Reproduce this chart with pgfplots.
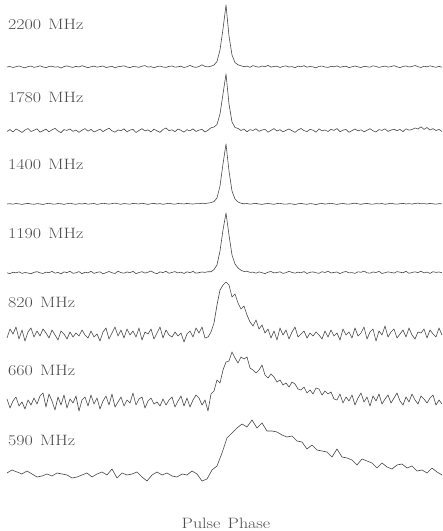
\documentclass[border=0pt]{standalone}
\usepackage{pgfplots}
\usepackage{pgfplotstable}
\usepackage{graphicx}
\pgfplotsset{compat=1.18}

% Profile intensities (arbitrary units), one value per phase bin.
\pgfplotstableread[row sep=\\]{h\\
0\\0.5\\-0.5\\0.3\\1.0\\0\\-0.8\\0.4\\0.9\\-0.3\\
0.2\\1.2\\0.1\\-0.6\\0.5\\0.8\\-0.2\\0.3\\-1.0\\0.4\\
1.1\\0.2\\-0.4\\0.6\\0\\1.3\\0.3\\-0.7\\0.2\\0.9\\
-0.2\\0.4\\1.0\\-0.5\\0.1\\0.7\\-0.9\\0.3\\0.6\\1.2\\
0\\-0.6\\0.5\\0.2\\-0.3\\0.8\\1.4\\-0.1\\0.3\\-0.8\\
0.4\\0.9\\0\\-0.4\\0.6\\1.0\\-0.2\\0.2\\0.8\\-0.5\\
0.3\\1.6\\0.2\\-0.4\\0.5\\2.2\\0.6\\0.1\\0.8\\2.0\\
5.5\\17\\38\\62\\31\\12\\4.5\\2.2\\1.2\\0.3\\
0.9\\-0.3\\1.4\\0.4\\-0.2\\1.0\\0.3\\1.6\\-0.1\\0.5\\
0.8\\-0.5\\0.6\\1.1\\0\\0.4\\-0.7\\0.9\\0.2\\1.3\\
-0.2\\0.5\\0.1\\-0.9\\0.6\\0.9\\0\\-0.4\\0.7\\0.2\\
1.1\\-0.3\\0.4\\0.8\\-0.6\\0.2\\1.0\\0.1\\-0.5\\0.6\\
0.3\\-0.2\\1.2\\0.5\\-0.4\\0.3\\0.9\\-0.1\\0.4\\1.3\\
0.2\\-0.7\\0.6\\1.0\\0\\0.5\\1.5\\0.3\\-0.5\\0.8\\
0.1\\1.2\\0.4\\-0.3\\0.6\\-0.2\\
}\profA

\pgfplotstableread[row sep=\\]{h\\
-0.5\\1.5\\-1.0\\2.0\\0.5\\-1.5\\1.0\\2.5\\-0.5\\0.8\\
2.2\\-1.2\\0.3\\1.8\\-0.8\\1.2\\2.6\\0\\-1.6\\1.4\\
0.6\\2.0\\-0.4\\1.0\\-1.4\\0.8\\2.4\\-0.2\\1.6\\-1.0\\
0.4\\1.9\\-0.6\\1.2\\2.8\\0.2\\-1.2\\1.0\\0.3\\2.1\\
-0.8\\0.9\\1.6\\-1.5\\0.5\\2.3\\0.1\\1.1\\-0.9\\1.8\\
0.2\\-1.3\\1.5\\3.0\\0.4\\1.2\\-0.7\\2.0\\0.6\\-1.1\\
1.3\\0.1\\2.2\\-0.5\\0.9\\1.7\\-1.0\\0.7\\3.2\\4.0\\
6.5\\17\\37\\57\\27\\9\\3.5\\2.6\\0.5\\2.0\\
-0.8\\1.4\\0.5\\2.2\\-0.3\\0.9\\1.8\\-1.2\\0.6\\2.4\\
0\\1.3\\-0.9\\0.7\\2.0\\0.3\\-1.4\\1.1\\2.5\\0.4\\
-0.6\\1.6\\0.8\\-1.1\\2.1\\0.2\\1.0\\-0.5\\1.7\\0.6\\
2.4\\-0.7\\0.9\\1.5\\-1.3\\0.4\\2.0\\0.1\\1.2\\-0.8\\
0.7\\2.3\\0.2\\-1.0\\1.4\\0.6\\2.1\\-0.4\\0.9\\1.8\\
0.3\\1.6\\-0.6\\2.2\\0.8\\1.5\\3.0\\2.0\\4.2\\1.6\\
3.5\\1.0\\2.4\\0.5\\1.6\\-0.5\\
}\profB

\pgfplotstableread[row sep=\\]{h\\
0\\0.3\\-0.2\\0.5\\0.1\\-0.4\\0.2\\0.6\\0\\-0.3\\
0.4\\0.1\\-0.5\\0.3\\0.7\\0\\-0.2\\0.5\\0.2\\-0.4\\
0.3\\0.8\\0.1\\-0.3\\0.4\\0\\0.6\\-0.2\\0.2\\0.5\\
-0.4\\0.1\\0.7\\0.3\\-0.1\\0.4\\0.9\\0.2\\-0.3\\0.5\\
0.1\\-0.2\\0.6\\0.3\\0\\0.8\\0.2\\-0.4\\0.3\\0.6\\
0\\0.4\\-0.3\\0.2\\0.7\\0.1\\-0.2\\0.5\\0.3\\0\\
0.6\\0.2\\-0.1\\0.4\\0.3\\0.8\\0.5\\0.9\\1.4\\2.5\\
6\\18\\40\\60\\33\\13\\5\\2\\0.8\\0.2\\
0.5\\-0.2\\0.3\\0.6\\0\\-0.4\\0.2\\0.5\\0.1\\-0.3\\
0.4\\0.7\\0\\-0.2\\0.3\\0.1\\-0.5\\0.2\\0.6\\0\\
-0.3\\0.4\\0.1\\-0.6\\0.2\\0.5\\-0.1\\0.3\\0.7\\0.1\\
-0.4\\0.2\\0.5\\0\\-0.2\\0.4\\0.8\\0.2\\-0.3\\0.3\\
0.6\\0\\-0.2\\0.4\\0.1\\0.5\\-0.3\\0.2\\0.7\\0.1\\
-0.2\\0.3\\0.6\\0\\0.4\\-0.1\\0.5\\0.9\\0.2\\0.4\\
0\\0.6\\0.2\\-0.2\\0.4\\0.1\\
}\profC

\pgfplotstableread[row sep=\\]{h\\
0.2\\-0.6\\0.8\\0.1\\1.2\\-0.4\\0.5\\0\\-0.8\\0.7\\
1.3\\0.2\\-0.5\\0.9\\0.3\\1.6\\-0.2\\0.6\\-0.9\\1.1\\
0.4\\1.8\\-0.3\\0.2\\1.4\\-0.7\\0.8\\0.1\\1.7\\-0.4\\
0.6\\1.2\\-0.8\\0.3\\1.5\\0.2\\-0.5\\1.9\\0.4\\-0.2\\
1.0\\0.3\\1.7\\-0.6\\0.5\\1.3\\-0.1\\0.8\\2.0\\0.2\\
-0.7\\1.1\\0.4\\1.8\\-0.3\\0.6\\1.4\\0\\0.9\\-0.5\\
1.2\\0.3\\1.6\\-0.2\\0.4\\1.0\\0.6\\1.3\\1.2\\3.5\\
8\\22\\43\\60\\38\\18\\9\\5\\2.8\\1.5\\
1.8\\0.6\\0.9\\-0.2\\1.1\\0.3\\-0.6\\0.8\\1.5\\0.1\\
0.5\\1.2\\-0.4\\0.3\\1.7\\0.6\\-0.2\\0.9\\0.2\\1.4\\
-0.5\\0.7\\1.1\\0.2\\-0.3\\1.3\\0.5\\1.8\\0\\0.6\\
1.0\\-0.6\\0.8\\1.5\\0.1\\0.4\\-0.4\\1.2\\0.7\\1.9\\
0.2\\-0.2\\1.0\\0.5\\1.6\\-0.5\\0.3\\1.1\\0.6\\-0.1\\
1.4\\0.8\\0.2\\1.7\\-0.3\\0.5\\1.2\\0.4\\1.8\\0.1\\
0.9\\-0.4\\1.3\\0.6\\1.0\\0.3\\
}\profD

\pgfplotstableread[row sep=\\]{h\\
-3\\6\\1\\8\\-4\\5\\-6\\3\\7\\-2\\
4\\-1\\6\\2\\-3\\5\\0\\-5\\4\\1\\
-4\\3\\-2\\2\\-1\\5\\0\\-3\\4\\-2\\
1\\-6\\3\\7\\-4\\2\\8\\-1\\5\\-3\\
6\\0\\4\\-2\\7\\-5\\3\\1\\6\\-4\\
2\\8\\-3\\5\\0\\-2\\3\\-1\\2\\-7\\
1\\4\\-2\\7\\2\\8\\-3\\-2\\3\\12\\
30\\45\\50\\53\\50\\38\\41\\32\\26\\29\\
20\\13\\9\\15\\6\\10\\2\\6\\-3\\4\\
-5\\7\\0\\5\\-4\\3\\8\\-2\\1\\4\\
-3\\2\\-1\\3\\0\\-4\\4\\-2\\5\\-1\\
2\\-5\\6\\0\\3\\-3\\7\\-1\\2\\8\\
-4\\3\\6\\-6\\4\\0\\9\\-2\\3\\6\\
-3\\1\\5\\-2\\7\\0\\-4\\3\\2\\6\\
-3\\5\\1\\-2\\7\\0\\
}\profE

\pgfplotstableread[row sep=\\]{h\\
4\\-5\\2\\6\\-3\\1\\-6\\3\\-2\\5\\
-1\\7\\10\\-4\\9\\2\\-7\\6\\-2\\8\\
-5\\4\\0\\7\\-8\\3\\6\\-3\\8\\-1\\
5\\-6\\2\\7\\-2\\9\\-4\\1\\6\\-3\\
3\\0\\10\\-2\\4\\6\\-5\\2\\5\\-1\\
1\\-3\\4\\-2\\3\\6\\-4\\2\\7\\-3\\
5\\-4\\3\\8\\5\\-2\\3\\-8\\9\\12\\
23\\20\\33\\41\\42\\51\\45\\40\\46\\44\\
46\\35\\33\\30\\33\\38\\28\\25\\29\\26\\
21\\23\\18\\20\\16\\21\\19\\14\\13\\16\\
10\\13\\9\\15\\14\\8\\12\\9\\11\\4\\
3\\9\\0\\6\\2\\8\\-2\\5\\10\\1\\
6\\-3\\7\\2\\9\\-1\\4\\8\\0\\5\\
10\\2\\-2\\6\\1\\9\\3\\-1\\7\\4\\
0\\5\\8\\-2\\3\\-1\\
}\profF

\pgfplotstableread[row sep=\\]{h\\
2\\5\\3\\1\\4\\1\\-2\\-1\\1\\-1\\
2\\1\\0\\-3\\-2\\0\\2\\-2\\1\\3\\
0\\6\\-3\\2\\0\\1\\3\\-2\\-6\\0\\
3\\0\\2\\-1\\-2\\1\\0\\4\\1\\-6\\
-4\\5\\9\\22\\37\\42\\47\\51\\48\\55\\
47\\52\\44\\44\\43\\40\\38\\39\\34\\33\\
26\\30\\25\\24\\23\\18\\26\\18\\17\\15\\
10\\16\\14\\12\\7\\12\\8\\6\\10\\11\\
7\\9\\4\\5\\2\\7\\3\\0\\
}\profG

\begin{document}
\begin{tikzpicture}
\begin{axis}[
    scale only axis,
    width=443pt, height=531pt,
    xmin=0, xmax=443, ymin=0, ymax=531,
    hide axis, clip=false,
    table/x index=0, table/y index=0,
    prof/.style={black!72, solid, line width=0.6pt, mark=none, line join=round},
]
\path (axis cs:0,0) rectangle (axis cs:443,531);

\addplot[prof] table[x expr=7+3*\coordindex, y expr=\thisrow{h}+464] {\profA};
\addplot[prof] table[x expr=7+3*\coordindex, y expr=\thisrow{h}+400] {\profB};
\addplot[prof] table[x expr=7+3*\coordindex, y expr=\thisrow{h}+327] {\profC};
\addplot[prof] table[x expr=7+3*\coordindex, y expr=\thisrow{h}+258] {\profD};
\addplot[prof] table[x expr=7+3*\coordindex, y expr=\thisrow{h}+196] {\profE};
\addplot[prof] table[x expr=7+3*\coordindex, y expr=\thisrow{h}+128] {\profF};
\addplot[prof] table[x expr=7+5*\coordindex, y expr=\thisrow{h}+56] {\profG};

\tikzset{flab/.style={anchor=west, inner sep=0pt, text=black!70,
    font=\fontsize{15}{18}\selectfont}}
\node[flab] at (axis cs:8,506) {\scalebox{1.2}[1]{2200\hspace{6pt}MHz}};
\node[flab] at (axis cs:8,434) {\scalebox{1.2}[1]{1780\hspace{6pt}MHz}};
\node[flab] at (axis cs:8,367) {\scalebox{1.2}[1]{1400\hspace{6pt}MHz}};
\node[flab] at (axis cs:8,298) {\scalebox{1.2}[1]{1190\hspace{6pt}MHz}};
\node[flab] at (axis cs:8,229) {\scalebox{1.2}[1]{820\hspace{6pt}MHz}};
\node[flab] at (axis cs:8,161) {\scalebox{1.2}[1]{660\hspace{6pt}MHz}};
\node[flab] at (axis cs:8,91) {\scalebox{1.2}[1]{590\hspace{6pt}MHz}};
\node[flab, anchor=center] at (axis cs:226,8) {\scalebox{1.2}[1]{Pulse\hspace{6pt}Phase}};
\end{axis}
\end{tikzpicture}
\end{document}
